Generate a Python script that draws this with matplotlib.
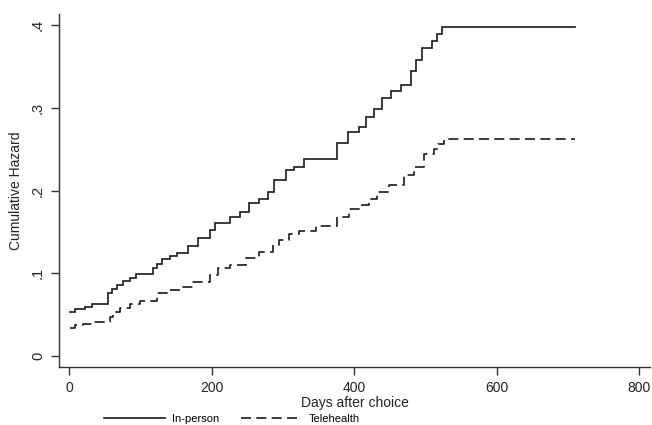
import matplotlib
matplotlib.use("Agg")
import matplotlib.pyplot as plt
from matplotlib.lines import Line2D

# In-person cumulative hazard (event days, hazard)
inperson_days = [1, 8, 22, 32, 55, 60, 67, 76, 85, 94, 118, 123, 130, 141, 151, 167,
                 181, 197, 204, 225, 239, 253, 267, 279, 288, 304, 316, 330, 376, 391,
                 407, 416, 428, 439, 451, 465, 479, 486, 495, 509, 516, 523, 710]
inperson_haz = [0.053, 0.057, 0.059, 0.063, 0.076, 0.081, 0.086, 0.091, 0.094, 0.099,
                0.106, 0.111, 0.117, 0.121, 0.125, 0.133, 0.142, 0.152, 0.161, 0.168,
                0.174, 0.185, 0.190, 0.198, 0.213, 0.225, 0.229, 0.238, 0.257, 0.271,
                0.277, 0.289, 0.299, 0.312, 0.320, 0.328, 0.344, 0.358, 0.372, 0.381,
                0.389, 0.398, 0.398]

# Telehealth cumulative hazard
tele_days = [1, 8, 20, 34, 57, 62, 71, 85, 99, 123, 137, 155, 174, 197, 209, 225, 248,
             267, 286, 295, 309, 323, 346, 376, 393, 411, 421, 432, 449, 470, 484, 498,
             512, 518, 526, 710]
tele_haz = [0.034, 0.037, 0.039, 0.0415, 0.0475, 0.0535, 0.0575, 0.0625, 0.066, 0.0757,
            0.080, 0.0835, 0.089, 0.098, 0.106, 0.110, 0.118, 0.126, 0.134, 0.140,
            0.148, 0.151, 0.157, 0.168, 0.178, 0.183, 0.190, 0.198, 0.207, 0.219,
            0.229, 0.244, 0.250, 0.256, 0.262, 0.262]

x_ticks = [0, 200, 400, 600, 800]
y_ticks = [0, 0.1, 0.2, 0.3, 0.4]
y_ticklabels = ["0", ".1", ".2", ".3", ".4"]
series_labels = ["In-person", "Telehealth"]

plt.rcParams['font.family'] = ['Liberation Sans', 'DejaVu Sans']

W, H = 652, 425
fig = plt.figure(figsize=(W / 100, H / 100), dpi=100)
ax = fig.add_axes([59 / W, 1 - 367 / H, (650 - 59) / W, (367 - 14) / H])

lc = "#1a1a1a"
ax.plot(inperson_days, inperson_haz, drawstyle="steps-post", color=lc, lw=1.2,
        solid_joinstyle="miter")
ax.plot(tele_days, tele_haz, drawstyle="steps-post", color=lc, lw=1.2,
        dashes=(6.0, 3.2))

ax.set_xlim(-14.3, 815)
ax.set_ylim(-0.0133, 0.4133)

for s in ["top", "right"]:
    ax.spines[s].set_visible(False)
for s in ["left", "bottom"]:
    ax.spines[s].set_color("#333333")
    ax.spines[s].set_linewidth(1.0)

ax.set_xticks(x_ticks)
ax.set_xticklabels([str(v) for v in x_ticks], fontsize=10, color="#222222")
ax.set_yticks(y_ticks)
ax.set_yticklabels(y_ticklabels, fontsize=10.5, rotation=90, va="center",
                   color="#222222")
ax.tick_params(axis="both", length=6, width=1.0, color="#333333", pad=4)

ax.set_xlabel("Days after choice", fontsize=10, color="#222222", labelpad=1)
ax.set_ylabel("Cumulative Hazard", fontsize=10, color="#222222", labelpad=6)

# Legend below
handles = [Line2D([0], [0], color=lc, lw=1.2),
           Line2D([0], [0], color=lc, lw=1.2, dashes=(6.0, 3.2))]
leg = fig.legend(handles, series_labels, loc="center", ncol=2,
                 bbox_to_anchor=(232 / W, 1 - 419 / H), frameon=False,
                 prop={'family': ['Liberation Sans Narrow', 'Liberation Sans'], 'size': 8},
                 handlelength=5.5, handletextpad=0.6, columnspacing=2.0,
                 borderpad=0.1)

fig.savefig("out.png", dpi=100)
